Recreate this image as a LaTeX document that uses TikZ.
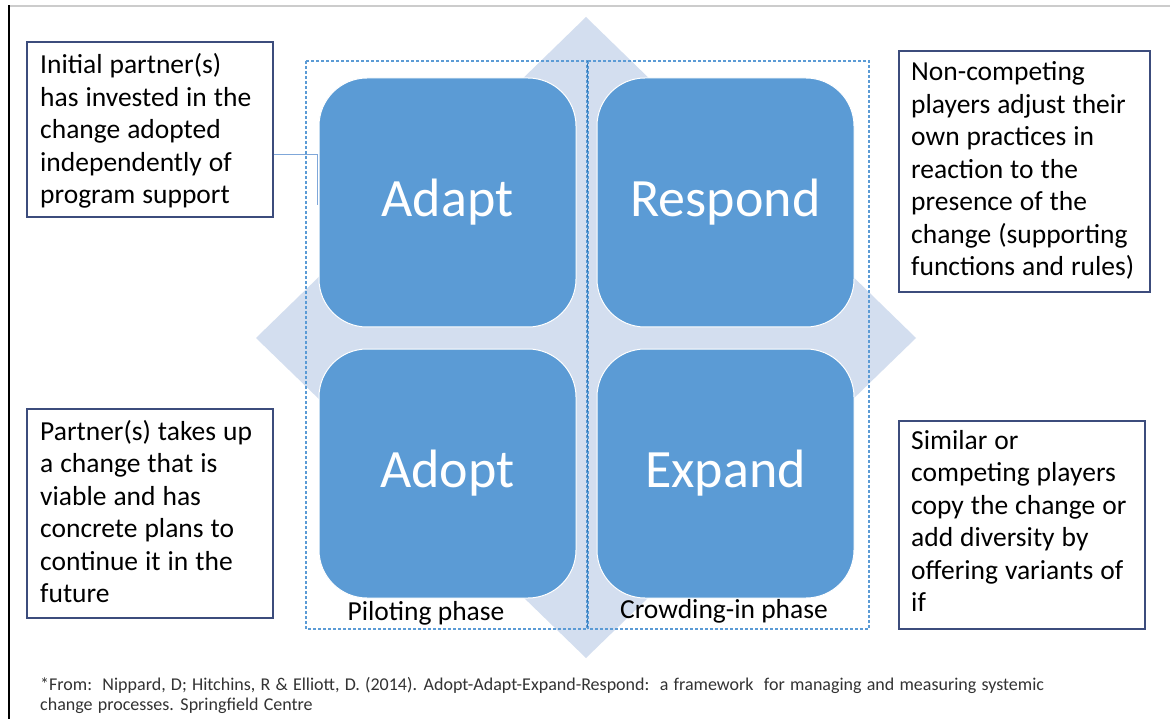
\documentclass[tikz,border=0pt]{standalone}
\usepackage{fontspec}
\setmainfont{Carlito}
\definecolor{sqblue}{HTML}{5B9BD5}
\definecolor{diam}{HTML}{D3DEEF}
\definecolor{dashc}{HTML}{5B9BD5}
\definecolor{dashdark}{HTML}{2E75B6}
\definecolor{boxc}{HTML}{3C4C7C}
\definecolor{conn}{HTML}{7FA7D9}
\definecolor{footc}{HTML}{333333}
\newcommand{\myboxfont}{\fontsize{27.5}{32.5}\selectfont\spaceskip=7pt\relax}
\newcommand{\myfootfont}{\fontsize{18}{20.5}\selectfont\spaceskip=5.2pt\relax}
\begin{document}
\begin{tikzpicture}[x=1pt,y=-1pt,
  sq/.style={fill=sqblue, draw=white, line width=1pt, rounded corners=48pt,
    minimum width=257pt, minimum height=249pt, text=white,
    font=\fontsize{54}{60}\selectfont, inner sep=0pt},
  tbox/.style={draw=boxc, line width=1.3pt, fill=white, inner sep=0pt},
  btxt/.style={font=\myboxfont, text width=300pt, align=flush left, inner sep=0pt, anchor=base west},
  phase/.style={font=\fontsize{27.5}{32}\selectfont, inner sep=0pt, anchor=base},
  phasebox/.style={draw=dashc, dash pattern=on 3pt off 2pt, line width=1.2pt},
  foot/.style={font=\myfootfont, text=footc, text width=1100pt, align=flush left, inner sep=0pt, anchor=base west},
  connline/.style={draw=conn, line width=1pt}
]
\useasboundingbox (0,0) rectangle (1170,719);
\fill[white] (0,0) rectangle (1170,719);
\draw[black!20, line width=1.5pt] (8,6) -- (1170,6);
\draw[black, line width=1.5pt] (9,5.25) -- (9,719);

% background diamond
\fill[diam] (586,17) -- (916,338) -- (586,658) -- (256,338) -- cycle;

% phase frames
\draw[phasebox] (306,61) rectangle (587,629);
\draw[phasebox] (588,61) rectangle (869,629);
\draw[dashdark, dash pattern=on 3pt off 2pt, dash phase=2pt, line width=0.8pt] (587.5,61) -- (587.5,629);

% quadrants
\node[sq] (adapt)   at (447.5,202.5) {Adapt};
\node[sq] (respond) at (725.5,202.5) {Respond};
\node[sq] (adopt)   at (447.5,473.5) {Adopt};
\node[sq] (expand)  at (725.5,473.5) {Expand};

% phase labels
\node[phase] (pilot) at (426,620) {Piloting phase};
\node[phase] (crowd) at (724,618) {Crowding-in phase};

% description boxes
\node[tbox, minimum width=246pt, minimum height=175pt] (lt) at (150,129.5) {};
\node[tbox, minimum width=246pt, minimum height=209pt] (lb) at (150,513.5) {};
\node[tbox, minimum width=251pt, minimum height=241pt] (rt) at (1024.5,171.5) {};
\node[tbox, minimum width=246pt, minimum height=208pt] (rb) at (1022,525) {};

\node[btxt] (ltt) at (40,74) {Initial partner(s)\\has invested in the\\change adopted\\independently of\\program support};
\node[btxt] (lbt) at (40,440) {Partner(s) takes up\\a change that is\\viable and has\\concrete plans to\\continue it in the\\future};
\node[btxt] (rtt) at (911,81) {Non-competing\\players adjust their\\own practices in\\reaction to the\\presence of the\\change (supporting\\functions and rules)};
\node[btxt] (rbt) at (911,449) {Similar or\\competing players\\copy the change or\\add diversity by\\offering variants of\\if};

% connector
\coordinate (cend) at (317,205);
\draw[connline] ([yshift=-25.5pt]lt.east) -| (cend);

% footnote
\node[foot] (fn) at (40,690) {*From:\ \ Nippard, D; Hitchins, R \& Elliott, D. (2014). Adopt-Adapt-Expand-Respond:\ \ a framework\ \ for managing and measuring systemic\\change processes. Springfield Centre};
\end{tikzpicture}
\end{document}
